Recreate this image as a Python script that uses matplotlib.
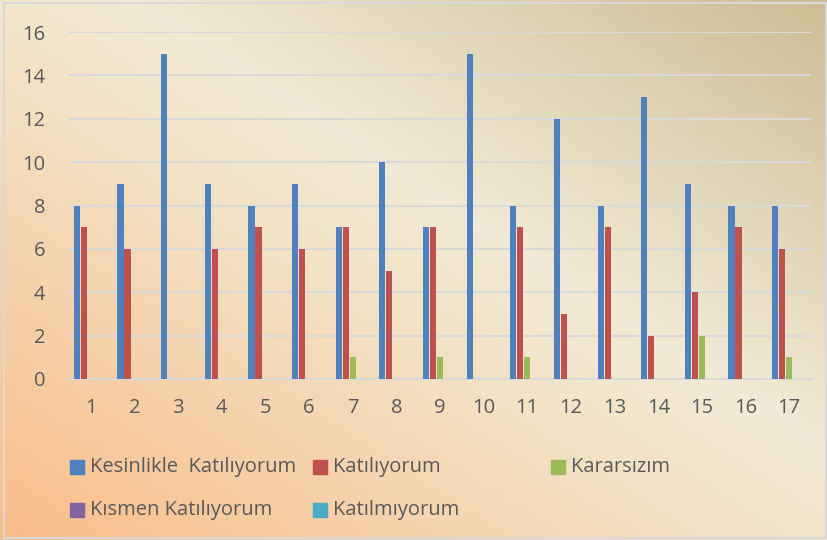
import numpy as np
import matplotlib.pyplot as plt
from matplotlib.patches import Rectangle
from matplotlib.colors import LinearSegmentedColormap

plt.rcParams['font.family'] = ['Open Sans', 'DejaVu Sans']

# survey answers for the 17 items
items = [str(i) for i in range(1, 18)]
kesinlikle = [8, 9, 15, 9, 8, 9, 7, 10, 7, 15, 8, 12, 8, 13, 9, 8, 8]
katiliyorum = [7, 6, 0, 6, 7, 6, 7, 5, 7, 0, 7, 3, 7, 2, 4, 7, 6]
kararsizim = [0, 0, 0, 0, 0, 0, 1, 0, 1, 0, 1, 0, 0, 0, 2, 0, 1]
kismen = [0] * 17
katilmiyorum = [0] * 17

names = ["Kesinlikle  Katılıyorum", "Katılıyorum", "Kararsızım",
         "Kısmen Katılıyorum", "Katılmıyorum"]
colors = ["#4F81BD", "#C0504D", "#9BBB59", "#8064A2", "#4BACC6"]
series = [kesinlikle, katiliyorum, kararsizim, kismen, katilmiyorum]

W, H = 828, 540
fig = plt.figure(figsize=(W/100, H/100), dpi=100)

# background gradient (tan top-right -> cream -> peach bottom-left)
bg = fig.add_axes([0, 0, 1, 1], zorder=-10)
xx, yy = np.meshgrid(np.linspace(0, 1, 300), np.linspace(0, 1, 200))
t = ((1 - xx) + yy) / 2
cmap = LinearSegmentedColormap.from_list("parch", [
    (0.0, (0.80, 0.74, 0.58)),
    (0.42, (0.95, 0.92, 0.84)),
    (0.55, (0.95, 0.89, 0.78)),
    (1.0, (0.98, 0.74, 0.54)),
])
bg.imshow(t, cmap=cmap, aspect='auto', extent=[0, 1, 1, 0], vmin=0, vmax=1)
bg.set_xlim(0, 1)
bg.set_ylim(1, 0)
bg.axis('off')
fig.patches.append(Rectangle((0.005, 0.003), 0.992, 0.992, transform=fig.transFigure,
                             fill=False, edgecolor="#d9d9d9", lw=1.5))

ax = fig.add_axes([69/W, 1 - 379/H, (811-69)/W, (379-32)/H])
ax.patch.set_alpha(0)

x = np.arange(1, 18)
bw = 0.16
for k, (vals, c) in enumerate(zip(series, colors)):
    ax.bar(x + (k - 2) * bw, vals, width=bw*0.88, color=c, zorder=3)

ax.set_xlim(0.5, 17.5)
ax.set_ylim(0, 16)
ax.set_yticks(range(0, 17, 2))
ax.set_xticks(x)
ax.set_xticklabels(items)
ax.grid(axis='y', color='#d9d9d9', lw=1.5, zorder=0)
for s in ['top', 'right', 'left']:
    ax.spines[s].set_visible(False)
ax.spines['bottom'].set_color('#d9d9d9')
ax.spines['bottom'].set_linewidth(1.5)
ax.tick_params(length=0, labelsize=14.5, colors='#595959')
ax.tick_params(axis='y', pad=17)
ax.tick_params(axis='x', pad=14)

# legend, laid out like the original
pos = [(70, 467), (313, 467), (551, 467), (70, 510), (313, 510)]
for (px, py), name, c in zip(pos, names, colors):
    fig.patches.append(Rectangle((px/W, 1 - (py+7)/H), 14/W, 14/H,
                                 transform=fig.transFigure, color=c))
    fig.text((px + 20)/W, 1 - py/H, name, fontsize=14.5, color='#595959', va='center')

fig.savefig("out.png", dpi=100)
